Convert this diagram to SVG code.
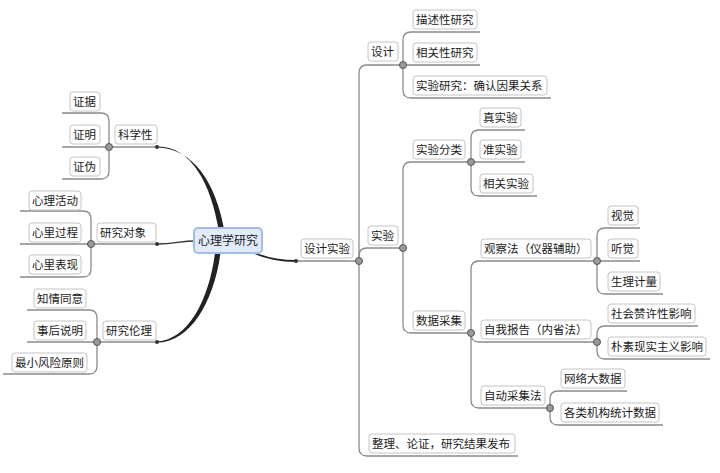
<svg xmlns="http://www.w3.org/2000/svg" width="720" height="473" viewBox="0 0 720 473">
<style>
.bg{fill:#fff}
.ln{fill:none;stroke:#8a8a8a;stroke-width:1.3}
.jn{fill:#9a9a9a;stroke:#555;stroke-width:1}
.dt{fill:#333}
.box{fill:#fff;stroke:#c4c4c4;stroke-width:1}
.t{font-family:"Noto Sans CJK SC","Liberation Sans",sans-serif;font-size:11.5px;fill:#1a1a1a}
.ct{font-family:"Noto Sans CJK SC","Liberation Sans",sans-serif;font-size:12px;fill:#1a1a1a;text-anchor:middle}
.main{fill:#222}
</style>
<rect class="bg" x="0" y="0" width="720" height="473"/>
<g id="connectors">
  <path class="main" d="M157,146.4 C192,146 211,185 218.5,229 L224,229 C216,184 193,147.6 157,147.6 Z"/>
  <path class="main" d="M157,341.4 C188,340 209,300 215,253 L220.5,253 C214,302 190,342.6 157,342.6 Z"/>
  <path fill="none" stroke="#333" stroke-width="1.3" d="M157,244 C175,244 180,241 196,241"/>
  <path fill="none" stroke="#222" stroke-width="1.8" d="M250,251 C266,259 280,261 296,261"/>
  <path class="ln" d="M109,147 H157"/>
  <path class="ln" d="M91,244 H157"/>
  <path class="ln" d="M97,342 H157"/>
  <path class="ln" d="M109,147 V121 Q109,113 101,113 H62"/>
  <path class="ln" d="M109,147 H62"/>
  <path class="ln" d="M109,147 V171 Q109,179 101,179 H62"/>
  <path class="ln" d="M91,244 V219 Q91,211 83,211 H20"/>
  <path class="ln" d="M91,244 H20"/>
  <path class="ln" d="M91,244 V269 Q91,277 83,277 H20"/>
  <path class="ln" d="M97,342 V318 Q97,310 89,310 H27"/>
  <path class="ln" d="M97,342 H27"/>
  <path class="ln" d="M97,342 V366 Q97,374 89,374 H3"/>
  <path class="ln" d="M296,261 H359"/>
  <path class="ln" d="M359,261 V73 Q359,65 367,65 H403"/>
  <path class="ln" d="M359,261 V256 Q359,248 367,248 H403"/>
  <path class="ln" d="M359,261 V448 Q359,456 367,456 H518"/>
  <path class="ln" d="M403,65 V40 Q403,32 411,32 H480"/>
  <path class="ln" d="M403,65 H480"/>
  <path class="ln" d="M403,65 V90 Q403,98 411,98 H551"/>
  <path class="ln" d="M403,248 V170 Q403,162 411,162 H471"/>
  <path class="ln" d="M403,248 V325 Q403,333 411,333 H471"/>
  <path class="ln" d="M471,162 V138 Q471,130 479,130 H525"/>
  <path class="ln" d="M471,162 H525"/>
  <path class="ln" d="M471,162 V188 Q471,196 479,196 H537"/>
  <path class="ln" d="M471,333 V269 Q471,261 479,261 H597"/>
  <path class="ln" d="M471,333 V334 Q471,342 479,342 H597"/>
  <path class="ln" d="M471,333 V400 Q471,408 479,408 H550"/>
  <path class="ln" d="M597,261 V236 Q597,228 605,228 H640"/>
  <path class="ln" d="M597,261 H640"/>
  <path class="ln" d="M597,261 V286 Q597,294 605,294 H663"/>
  <path class="ln" d="M597,342 V334 Q597,326 605,326 H698"/>
  <path class="ln" d="M597,342 V351 Q597,359 605,359 H710"/>
  <path class="ln" d="M550,408 V399 Q550,391 558,391 H627"/>
  <path class="ln" d="M550,408 V417 Q550,425 558,425 H663"/>
  <circle class="jn" cx="109" cy="147" r="3.5"/>
  <circle class="jn" cx="91" cy="244" r="3.5"/>
  <circle class="jn" cx="97" cy="342" r="3.5"/>
  <circle class="dt" cx="157" cy="147" r="2"/>
  <circle class="dt" cx="157" cy="244" r="2"/>
  <circle class="dt" cx="157" cy="342" r="2"/>
  <circle class="dt" cx="296" cy="261" r="2"/>
  <circle class="jn" cx="359" cy="261" r="3.5"/>
  <circle class="jn" cx="403" cy="65" r="3.5"/>
  <circle class="jn" cx="403" cy="248" r="3.5"/>
  <circle class="jn" cx="471" cy="162" r="3.5"/>
  <circle class="jn" cx="471" cy="333" r="3.5"/>
  <circle class="jn" cx="597" cy="261" r="3.5"/>
  <circle class="jn" cx="597" cy="342" r="3.5"/>
  <circle class="jn" cx="550" cy="408" r="3.5"/>
</g>
<g id="n-center"><rect x="194" y="228" width="68" height="25" rx="4" fill="#e2eafa" stroke="#a3bdea" stroke-width="2"/><text class="ct" x="228" y="245">心理学研究</text></g>
<g id="n-zhengju"><rect class="box" x="70" y="92" width="30" height="19" rx="3"/><text class="t" x="73" y="106">证据</text></g>
<g id="n-zhengming"><rect class="box" x="70" y="125" width="30" height="19" rx="3"/><text class="t" x="73" y="139">证明</text></g>
<g id="n-zhengwei"><rect class="box" x="70" y="157" width="30" height="19" rx="3"/><text class="t" x="73" y="171">证伪</text></g>
<g id="n-kexuexing"><rect class="box" x="115" y="125" width="42" height="19" rx="3"/><text class="t" x="118" y="139">科学性</text></g>
<g id="n-huodong"><rect class="box" x="29" y="191" width="52" height="19" rx="3"/><text class="t" x="32" y="205">心理活动</text></g>
<g id="n-guocheng"><rect class="box" x="29" y="223" width="52" height="19" rx="3"/><text class="t" x="32" y="237">心里过程</text></g>
<g id="n-biaoxian"><rect class="box" x="29" y="255" width="52" height="19" rx="3"/><text class="t" x="32" y="269">心里表现</text></g>
<g id="n-duixiang"><rect class="box" x="97" y="223" width="59" height="19" rx="3"/><text class="t" x="100" y="237">研究对象</text></g>
<g id="n-tongyi"><rect class="box" x="34" y="289" width="52" height="19" rx="3"/><text class="t" x="37" y="303">知情同意</text></g>
<g id="n-shuoming"><rect class="box" x="34" y="321" width="52" height="19" rx="3"/><text class="t" x="37" y="335">事后说明</text></g>
<g id="n-fengxian"><rect class="box" x="12" y="353" width="75" height="19" rx="3"/><text class="t" x="15" y="367">最小风险原则</text></g>
<g id="n-lunli"><rect class="box" x="103" y="321" width="53" height="19" rx="3"/><text class="t" x="106" y="335">研究伦理</text></g>
<g id="n-shejishiyan"><rect class="box" x="301" y="239" width="52" height="19" rx="3"/><text class="t" x="304" y="253">设计实验</text></g>
<g id="n-sheji"><rect class="box" x="368" y="42" width="30" height="19" rx="3"/><text class="t" x="371" y="56">设计</text></g>
<g id="n-miaoshu"><rect class="box" x="413" y="10" width="64" height="19" rx="3"/><text class="t" x="416" y="24">描述性研究</text></g>
<g id="n-xiangguan"><rect class="box" x="413" y="43" width="64" height="19" rx="3"/><text class="t" x="416" y="57">相关性研究</text></g>
<g id="n-shiyanyanjiu"><rect class="box" x="413" y="76" width="134" height="19" rx="3"/><text class="t" x="416" y="90">实验研究：确认因果关系</text></g>
<g id="n-shiyan"><rect class="box" x="368" y="226" width="30" height="19" rx="3"/><text class="t" x="371" y="240">实验</text></g>
<g id="n-fenlei"><rect class="box" x="413" y="140" width="52" height="19" rx="3"/><text class="t" x="416" y="154">实验分类</text></g>
<g id="n-zhen"><rect class="box" x="480" y="108" width="41" height="19" rx="3"/><text class="t" x="483" y="122">真实验</text></g>
<g id="n-zhun"><rect class="box" x="480" y="140" width="41" height="19" rx="3"/><text class="t" x="483" y="154">准实验</text></g>
<g id="n-xgsy"><rect class="box" x="480" y="174" width="53" height="19" rx="3"/><text class="t" x="483" y="188">相关实验</text></g>
<g id="n-caiji"><rect class="box" x="413" y="311" width="52" height="19" rx="3"/><text class="t" x="416" y="325">数据采集</text></g>
<g id="n-guancha"><rect class="box" x="481" y="239" width="110" height="19" rx="3"/><text class="t" x="484" y="253">观察法（仪器辅助）</text></g>
<g id="n-shijue"><rect class="box" x="608" y="206" width="30" height="19" rx="3"/><text class="t" x="611" y="220">视觉</text></g>
<g id="n-tingjue"><rect class="box" x="608" y="239" width="30" height="19" rx="3"/><text class="t" x="611" y="253">听觉</text></g>
<g id="n-shengli"><rect class="box" x="608" y="272" width="52" height="19" rx="3"/><text class="t" x="611" y="286">生理计量</text></g>
<g id="n-baogao"><rect class="box" x="481" y="320" width="110" height="19" rx="3"/><text class="t" x="484" y="334">自我报告（内省法）</text></g>
<g id="n-shehui"><rect class="box" x="608" y="304" width="87" height="19" rx="3"/><text class="t" x="611" y="318">社会赞许性影响</text></g>
<g id="n-pusu"><rect class="box" x="608" y="337" width="98" height="19" rx="3"/><text class="t" x="611" y="351">朴素现实主义影响</text></g>
<g id="n-zidong"><rect class="box" x="481" y="386" width="64" height="19" rx="3"/><text class="t" x="484" y="400">自动采集法</text></g>
<g id="n-wangluo"><rect class="box" x="561" y="369" width="64" height="19" rx="3"/><text class="t" x="564" y="383">网络大数据</text></g>
<g id="n-gelei"><rect class="box" x="561" y="403" width="98" height="19" rx="3"/><text class="t" x="564" y="417">各类机构统计数据</text></g>
<g id="n-zhengli"><rect class="box" x="369" y="434" width="146" height="19" rx="3"/><text class="t" x="372" y="448">整理、论证，研究结果发布</text></g>
</svg>
